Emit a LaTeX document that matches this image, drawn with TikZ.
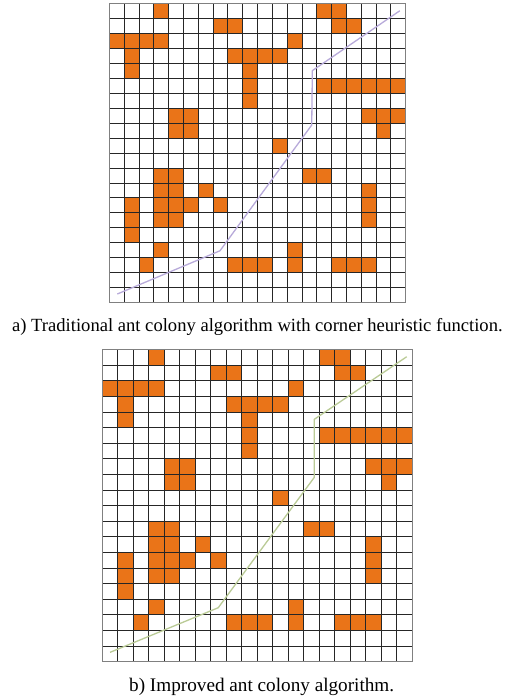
\documentclass[tikz,border=0pt]{standalone}
\usepackage{fontspec}
\setmainfont{Liberation Serif}

\definecolor{obstacle}{RGB}{234,116,24}
\definecolor{pathA}{RGB}{184,170,218}
\definecolor{pathB}{RGB}{186,203,150}

% obstacle cells: column/row, row counted from the top
\newcommand{\blocked}{3/0, 14/0, 15/0,
  7/1, 8/1, 15/1, 16/1,
  0/2, 1/2, 2/2, 3/2, 12/2,
  1/3, 8/3, 9/3, 10/3, 11/3,
  1/4, 9/4,
  9/5, 14/5, 15/5, 16/5, 17/5, 18/5, 19/5,
  9/6,
  4/7, 5/7, 17/7, 18/7, 19/7,
  4/8, 5/8, 18/8,
  11/9,
  3/11, 4/11, 13/11, 14/11,
  3/12, 4/12, 6/12, 17/12,
  1/13, 3/13, 4/13, 5/13, 7/13, 17/13,
  1/14, 3/14, 4/14, 17/14,
  1/15,
  3/16, 12/16,
  2/17, 8/17, 9/17, 10/17, 12/17, 15/17, 16/17, 17/17}

\tikzset{
  gridline/.style={black!85, line width=0.85pt},
  border/.style={black!50, line width=1.1pt},
  cell/.style={fill=obstacle},
  route/.style={line width=1.3pt, line join=round},
  caption/.style={anchor=base, inner sep=0pt}
}

\begin{document}
\begin{tikzpicture}[x=1pt, y=1pt]
  \useasboundingbox[fill=white] (0,0) rectangle (512,696);

  % a) traditional algorithm
  \begin{scope}[shift={(109.3,393.3)}, x=14.82pt, y=14.97pt]
    \fill[white] (0,0) rectangle (20,20);
    \foreach \c/\r in \blocked
      \fill[cell] (\c,{19-\r}) rectangle ++(1,1);
    \foreach \i in {1,...,19} {
      \draw[gridline] (\i,0) -- (\i,20);
      \draw[gridline] (0,\i) -- (20,\i);
    }
    \draw[border] (0,0) rectangle (20,20);
    \draw[route, pathA] (0.54,0.58) -- (7.47,3.47) -- (13.66,11.87)
      -- (13.70,15.5) -- (19.6,19.5);
  \end{scope}
  \node[caption, font=\fontsize{18.6}{21}\selectfont] (capA) at (257.4,364.3)
    {a) Traditional ant colony algorithm with corner heuristic function.};

  % b) improved algorithm
  \begin{scope}[shift={(102.3,34.3)}, x=15.5pt, y=15.6pt]
    \fill[white] (0,0) rectangle (20,20);
    \foreach \c/\r in \blocked
      \fill[cell] (\c,{19-\r}) rectangle ++(1,1);
    \foreach \i in {1,...,19} {
      \draw[gridline] (\i,0) -- (\i,20);
      \draw[gridline] (0,\i) -- (20,\i);
    }
    \draw[border] (0,0) rectangle (20,20);
    \draw[route, pathB] (0.50,0.60) -- (7.48,3.46) -- (13.68,11.82)
      -- (13.68,15.54) -- (19.64,19.55);
  \end{scope}
  \node[caption, font=\fontsize{19.2}{22}\selectfont] (capB) at (261.7,5)
    {b) Improved ant colony algorithm.};
\end{tikzpicture}
\end{document}
